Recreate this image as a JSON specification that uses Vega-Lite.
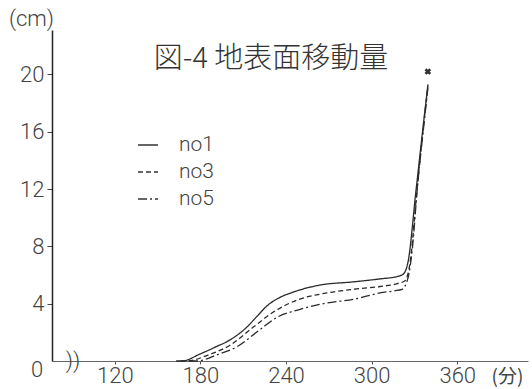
{
  "$schema": "https://vega.github.io/schema/vega-lite/v6.json",
  "width": 476,
  "height": 331,
  "autosize": {"type": "none"},
  "padding": {"left": 52, "top": 30, "right": 4, "bottom": 28},
  "background": "white",
  "config": {"view": {"stroke": null}, "font": "Roboto"},
  "datasets": {
    "curves": [
      {"series": "no1", "t": 163, "v": 0},
      {"series": "no1", "t": 167, "v": 0},
      {"series": "no1", "t": 180, "v": 0.5},
      {"series": "no1", "t": 190, "v": 0.95},
      {"series": "no1", "t": 200.7, "v": 1.47},
      {"series": "no1", "t": 212.7, "v": 2.38},
      {"series": "no1", "t": 220, "v": 3.15},
      {"series": "no1", "t": 226.7, "v": 3.85},
      {"series": "no1", "t": 235, "v": 4.4},
      {"series": "no1", "t": 244.9, "v": 4.8},
      {"series": "no1", "t": 263.8, "v": 5.3},
      {"series": "no1", "t": 287, "v": 5.52},
      {"series": "no1", "t": 305.9, "v": 5.73},
      {"series": "no1", "t": 318, "v": 5.9},
      {"series": "no1", "t": 322, "v": 6.05},
      {"series": "no1", "t": 325.5, "v": 6.9},
      {"series": "no1", "t": 331, "v": 11.8},
      {"series": "no1", "t": 336.7, "v": 16.9},
      {"series": "no1", "t": 339.5, "v": 19.3},
      {"series": "no3", "t": 166, "v": 0},
      {"series": "no3", "t": 170.6, "v": 0},
      {"series": "no3", "t": 185, "v": 0.4},
      {"series": "no3", "t": 200.7, "v": 1.1},
      {"series": "no3", "t": 216.9, "v": 2.35},
      {"series": "no3", "t": 230.9, "v": 3.4},
      {"series": "no3", "t": 247.7, "v": 4.25},
      {"series": "no3", "t": 268.7, "v": 4.75},
      {"series": "no3", "t": 287, "v": 5.0},
      {"series": "no3", "t": 305.9, "v": 5.2},
      {"series": "no3", "t": 318, "v": 5.4},
      {"series": "no3", "t": 323.4, "v": 5.6},
      {"series": "no3", "t": 327, "v": 6.9},
      {"series": "no3", "t": 331.5, "v": 11.6},
      {"series": "no3", "t": 337, "v": 17.0},
      {"series": "no3", "t": 339.5, "v": 19.2},
      {"series": "no5", "t": 172, "v": 0},
      {"series": "no5", "t": 177.6, "v": 0},
      {"series": "no5", "t": 192, "v": 0.45},
      {"series": "no5", "t": 205.7, "v": 1.0},
      {"series": "no5", "t": 221.8, "v": 2.2},
      {"series": "no5", "t": 233.7, "v": 3.05},
      {"series": "no5", "t": 249.8, "v": 3.6},
      {"series": "no5", "t": 268.7, "v": 4.05},
      {"series": "no5", "t": 287, "v": 4.3},
      {"series": "no5", "t": 305.9, "v": 4.75},
      {"series": "no5", "t": 316, "v": 4.9},
      {"series": "no5", "t": 321.3, "v": 5.0},
      {"series": "no5", "t": 325.5, "v": 5.8},
      {"series": "no5", "t": 328.5, "v": 7.8},
      {"series": "no5", "t": 332, "v": 12.0},
      {"series": "no5", "t": 337.2, "v": 17.0},
      {"series": "no5", "t": 339.5, "v": 19.1}
    ],
    "labels": [
      {"t": 229.5, "v": 21.1, "label": "図-4 地表面移動量", "kind": "title"},
      {"t": 65.5, "v": -0.6, "label": "0", "kind": "origin"},
      {"t": 90.7, "v": 0, "label": "))", "kind": "break"}
    ],
    "end": [
      {"t": 339.4, "v": 20.2}
    ]
  },
  "layer": [
    {
      "data": {"name": "curves"},
      "mark": {"type": "line", "color": "#2a2a2a", "strokeWidth": 1.3, "interpolate": "monotone"},
      "encoding": {
        "x": {
          "field": "t", "type": "quantitative",
          "scale": {"domain": [76, 409.6], "nice": false, "zero": false},
          "axis": {
            "values": [120, 180, 240, 300, 360], "grid": false,
            "title": "(分)", "titleX": 455, "titleY": 15, "titleAngle": 0,
            "titleAlign": "center", "titleBaseline": "middle",
            "titleFont": "Noto Sans CJK JP", "titleFontSize": 19, "titleFontWeight": "normal", "titleColor": "#444",
            "labelFont": "Roboto", "labelFontWeight": 300, "labelFontSize": 22, "labelColor": "#444",
            "labelPadding": 1, "tickSize": 3, "tickColor": "#555",
            "domainColor": "#666", "domainWidth": 1
          }
        },
        "y": {
          "field": "v", "type": "quantitative",
          "scale": {"domain": [0, 23.1], "nice": false},
          "axis": {
            "values": [4, 8, 12, 16, 20], "grid": false,
            "title": "(cm)", "titleX": -21, "titleY": -12, "titleAngle": 0,
            "titleAlign": "center", "titleBaseline": "middle",
            "titleFont": "Roboto", "titleFontWeight": 300, "titleFontSize": 22, "titleColor": "#444",
            "labelFont": "Roboto", "labelFontWeight": 300, "labelFontSize": 22, "labelColor": "#444",
            "labelPadding": 3, "tickSize": 5, "tickColor": "#444",
            "domainColor": "#222", "domainWidth": 1.5
          }
        },
        "strokeDash": {
          "field": "series", "type": "nominal",
          "scale": {"domain": ["no1", "no3", "no5"], "range": [[1, 0], [5, 3], [9, 3, 2, 3]]},
          "legend": {
            "title": null, "orient": "none", "legendX": 85, "legendY": 104,
            "symbolType": "stroke", "symbolSize": 400, "symbolStrokeWidth": 1.3, "symbolStrokeColor": "#333",
            "labelFont": "Roboto", "labelFontWeight": 300, "labelFontSize": 21, "labelColor": "#444",
            "labelOffset": 20, "rowPadding": 6
          }
        }
      }
    },
    {
      "data": {"name": "labels"},
      "transform": [{"filter": "datum.kind == 'title'"}],
      "mark": {"type": "text", "font": "Noto Sans CJK JP", "fontSize": 29, "fontWeight": 300, "color": "#333", "align": "center", "baseline": "middle"},
      "encoding": {
        "x": {"field": "t", "type": "quantitative"},
        "y": {"field": "v", "type": "quantitative"},
        "text": {"field": "label"}
      }
    },
    {
      "data": {"name": "labels"},
      "transform": [{"filter": "datum.kind != 'title'"}],
      "mark": {"type": "text", "font": "Roboto", "fontSize": 22, "fontWeight": 300, "color": "#444", "align": "center", "baseline": "middle"},
      "encoding": {
        "x": {"field": "t", "type": "quantitative"},
        "y": {"field": "v", "type": "quantitative"},
        "text": {"field": "label"}
      }
    },
    {
      "data": {"name": "end"},
      "mark": {"type": "point", "shape": "cross", "angle": 45, "size": 45, "filled": true, "color": "#333", "opacity": 1},
      "encoding": {
        "x": {"field": "t", "type": "quantitative"},
        "y": {"field": "v", "type": "quantitative"}
      }
    }
  ]
}
